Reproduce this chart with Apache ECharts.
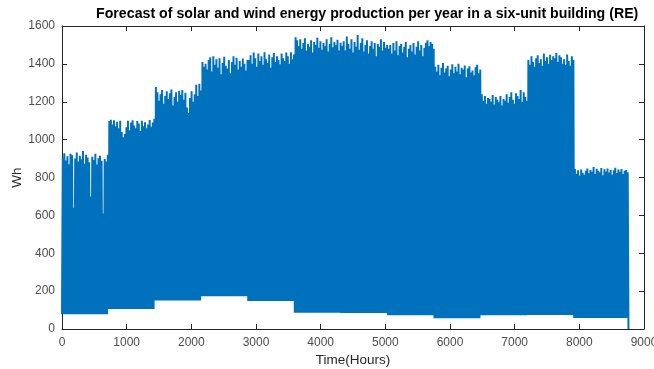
<!DOCTYPE html>
<html>
<head>
<meta charset="utf-8">
<script src="https://cdn.jsdelivr.net/npm/echarts@6/dist/echarts.min.js"></script>
<style>
  html, body { margin: 0; padding: 0; background: #fff; }
  #chart { width: 654px; height: 369px; }
</style>
</head>
<body>
<div id="chart"></div>
<script>
// Hourly RE production: each day rises from the night-time (wind only) floor
// to the midday solar+wind peak. Months are 720 h; the last one runs to 8760 h.
const monthHours = [720, 720, 720, 720, 720, 720, 720, 720, 720, 720, 720, 840];

// Night-time floor per month (Wh)
const monthFloor = [78, 105, 150, 173, 148, 86, 84, 72, 57, 72, 74, 58];

// Daily peak production (Wh), one array per month
const peaksJan = [905, 928, 890, 912, 870, 925, 918, 640, 900, 932, 885, 915, 896, 940, 872, 920, 905, 880, 700, 910, 893, 925, 868, 902, 915, 888, 610, 898, 884, 920];
const peaksFeb = [1098, 1105, 1080, 1102, 1070, 1095, 1060, 1100, 1040, 1012, 1030, 1065, 1100, 1050, 1090, 1102, 1075, 1060, 1098, 1085, 1045, 1100, 1070, 1092, 1060, 1080, 1104, 1068, 1090, 1110];
const peaksMar = [1278, 1250, 1205, 1240, 1262, 1190, 1230, 1255, 1215, 1245, 1265, 1180, 1225, 1250, 1200, 1258, 1235, 1262, 1210, 1248, 1170, 1140, 1220, 1255, 1200, 1240, 1290, 1230, 1295, 1260];
const peaksApr = [1410, 1385, 1400, 1370, 1420, 1435, 1360, 1440, 1395, 1425, 1380, 1430, 1345, 1405, 1438, 1390, 1375, 1420, 1350, 1410, 1440, 1395, 1432, 1370, 1415, 1385, 1428, 1400, 1365, 1420];
const peaksMay = [1420, 1445, 1400, 1460, 1430, 1385, 1455, 1415, 1440, 1395, 1462, 1425, 1405, 1450, 1380, 1435, 1458, 1410, 1440, 1420, 1398, 1455, 1430, 1415, 1460, 1440, 1400, 1462, 1425, 1450];
const peaksJun = [1540, 1525, 1495, 1530, 1480, 1510, 1535, 1470, 1505, 1490, 1525, 1460, 1515, 1500, 1538, 1485, 1520, 1475, 1510, 1495, 1530, 1465, 1505, 1540, 1488, 1515, 1500, 1528, 1470, 1512];
const peaksJul = [1495, 1520, 1470, 1545, 1505, 1480, 1530, 1460, 1515, 1490, 1552, 1475, 1510, 1535, 1465, 1500, 1525, 1455, 1495, 1520, 1480, 1510, 1440, 1505, 1490, 1530, 1470, 1515, 1485, 1500];
const peaksAug = [1480, 1500, 1455, 1510, 1470, 1520, 1445, 1495, 1505, 1460, 1490, 1515, 1435, 1480, 1500, 1465, 1510, 1450, 1490, 1520, 1470, 1500, 1440, 1485, 1512, 1525, 1495, 1515, 1505, 1480];
const peaksSep = [1385, 1360, 1395, 1340, 1380, 1405, 1355, 1375, 1390, 1335, 1370, 1398, 1350, 1385, 1360, 1400, 1345, 1380, 1370, 1392, 1330, 1375, 1388, 1355, 1365, 1340, 1382, 1395, 1350, 1370];
const peaksOct = [1240, 1205, 1230, 1190, 1220, 1215, 1200, 1235, 1185, 1225, 1210, 1198, 1230, 1180, 1215, 1205, 1240, 1195, 1225, 1250, 1210, 1190, 1245, 1230, 1215, 1262, 1200, 1250, 1225, 1205];
const peaksNov = [1420, 1395, 1440, 1410, 1385, 1430, 1445, 1405, 1425, 1390, 1455, 1415, 1435, 1400, 1448, 1420, 1440, 1430, 1457, 1410, 1445, 1435, 1400, 1425, 1395, 1450, 1415, 1390, 1440, 1420];
const peaksDec = [845, 820, 838, 810, 842, 825, 815, 836, 848, 822, 840, 830, 855, 818, 846, 835, 828, 850, 812, 844, 832, 848, 826, 840, 815, 838, 852, 824, 842, 830, 845, 818, 836, 840, 828];

// Production at the very last hour of the year
const endValue = 0;

const monthPeaks = [peaksJan, peaksFeb, peaksMar, peaksApr, peaksMay, peaksJun,
                    peaksJul, peaksAug, peaksSep, peaksOct, peaksNov, peaksDec];

// Axis ticks
const xTicks = { min: 0, max: 9000, step: 1000 };
const yTicks = { min: 0, max: 1600, step: 200 };

// [hour, Wh] pairs: night floor at the start of each day, peak at midday
const series = [];
let hour = 0;
monthPeaks.forEach((peaks, m) => {
  peaks.forEach((p) => {
    series.push([hour, monthFloor[m]]);
    series.push([hour + 12, p]);
    hour += 24;
  });
});
series.push([8760, endValue]);

const axisGray = '#262626';
const labelGray = '#4d4d4d';
const fontFam = '"Liberation Sans", Arial, Helvetica, sans-serif';
const plain = (v) => String(v);

function boxAxis(extra) {
  return Object.assign({
    type: 'value',
    axisLine: { show: true, onZero: false, lineStyle: { color: axisGray, width: 1 } },
    axisTick: { show: true, inside: true, length: 5, lineStyle: { color: axisGray } },
    splitLine: { show: false }
  }, extra);
}

const chart = echarts.init(document.getElementById('chart'), null, { renderer: 'canvas' });
chart.setOption({
  animation: false,
  backgroundColor: '#ffffff',
  title: {
    text: 'Forecast of solar and wind energy production per year in a six-unit building (RE)',
    left: 91,
    top: 2,
    textStyle: { fontFamily: fontFam, fontSize: 14.2, fontWeight: 'bold', color: '#000' }
  },
  grid: { left: 62, right: 10, top: 26, bottom: 40, outerBoundsMode: 'none', containLabel: false },
  xAxis: [
    boxAxis({
      position: 'bottom', min: xTicks.min, max: xTicks.max, interval: xTicks.step,
      name: 'Time(Hours)', nameLocation: 'middle', nameGap: 24, nameMoveOverlap: false,
      nameTextStyle: { fontFamily: fontFam, fontSize: 13.5, color: '#262626' },
      axisLabel: { fontFamily: fontFam, fontSize: 12, color: labelGray, margin: 8, formatter: plain }
    }),
    boxAxis({
      position: 'top', min: xTicks.min, max: xTicks.max, interval: xTicks.step,
      axisLabel: { show: false }
    })
  ],
  yAxis: [
    boxAxis({
      position: 'left', min: yTicks.min, max: yTicks.max, interval: yTicks.step,
      name: 'Wh', nameLocation: 'middle', nameGap: 38, nameRotate: 90, nameMoveOverlap: false,
      nameTextStyle: { fontFamily: fontFam, fontSize: 13.5, color: '#262626' },
      axisLabel: { fontFamily: fontFam, fontSize: 12, color: labelGray, margin: 7, formatter: plain }
    }),
    boxAxis({
      position: 'right', min: yTicks.min, max: yTicks.max, interval: yTicks.step,
      axisLabel: { show: false }
    })
  ],
  series: [{
    type: 'line',
    data: series,
    xAxisIndex: 0,
    yAxisIndex: 0,
    showSymbol: false,
    symbol: 'none',
    sampling: null,
    lineStyle: { color: '#0072BD', width: 2, join: 'bevel' },
    z: 1
  }]
});
</script>
</body>
</html>
